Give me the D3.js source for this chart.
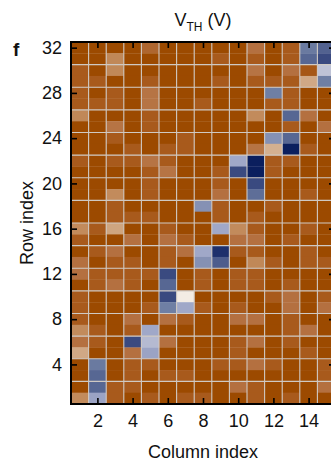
<!DOCTYPE html>
<html>
<head>
<meta charset="utf-8">
<script src="https://cdn.jsdelivr.net/npm/d3@7"></script>
<style>
  html, body { margin: 0; padding: 0; background: #fff; overflow: hidden; }
  text { font-family: Arial, "Liberation Sans", sans-serif; fill: #111; }
</style>
</head>
<body>
<svg id="chart" width="331" height="463"></svg>
<script>
// Threshold voltage map of the device array, one value per cell (V).
const columns = [1, 2, 3, 4, 5, 6, 7, 8, 9, 10, 11, 12, 13, 14, 15];
const rows = [32, 31, 30, 29, 28, 27, 26, 25, 24, 23, 22, 21, 20, 19, 18, 17,
              16, 15, 14, 13, 12, 11, 10, 9, 8, 7, 6, 5, 4, 3, 2, 1];

// vth[i][j] : row rows[i], column columns[j]
const vth = [
  [2.00, 2.00, 2.00, 2.00, 1.78, 2.00, 2.00, 2.00, 2.00, 2.00, 1.72, 2.00, 1.85, 0.50, 0.40],
  [2.00, 2.00, 1.60, 2.00, 2.00, 2.00, 2.00, 2.00, 1.85, 2.00, 1.85, 2.00, 1.85, 0.42, 0.30],
  [1.85, 2.00, 1.60, 2.00, 2.00, 2.00, 2.00, 2.00, 2.00, 2.00, 1.70, 2.00, 1.72, 1.88, 0.85],
  [1.85, 1.85, 2.00, 2.00, 1.85, 2.00, 2.00, 2.00, 1.85, 2.00, 1.85, 1.85, 1.85, 1.40, 0.52],
  [1.85, 2.00, 1.85, 2.00, 1.70, 2.00, 2.00, 2.00, 2.00, 2.00, 2.00, 0.52, 1.85, 2.00, 2.00],
  [1.85, 1.85, 1.85, 2.00, 1.70, 2.00, 2.00, 1.85, 2.00, 2.00, 2.00, 1.85, 1.85, 2.00, 2.00],
  [1.60, 2.00, 2.00, 2.00, 1.85, 2.00, 2.00, 2.00, 2.00, 2.00, 1.58, 2.00, 0.42, 1.72, 2.00],
  [2.00, 2.00, 1.70, 2.00, 1.85, 2.00, 2.00, 2.00, 2.00, 2.00, 2.00, 2.00, 1.85, 2.00, 1.72],
  [2.00, 2.00, 1.85, 2.00, 2.00, 2.00, 1.85, 2.00, 2.00, 2.00, 2.00, 0.60, 0.42, 2.00, 2.00],
  [2.00, 2.00, 2.00, 1.85, 2.00, 1.85, 1.85, 2.00, 2.00, 2.00, 1.70, 1.35, 0.05, 1.85, 2.00],
  [1.85, 2.00, 1.85, 1.85, 1.70, 1.85, 2.00, 2.00, 2.00, 0.70, 0.05, 1.85, 1.85, 2.00, 2.00],
  [2.00, 2.00, 2.00, 2.00, 1.85, 1.70, 2.00, 2.00, 1.85, 0.30, 0.05, 1.85, 2.00, 2.00, 2.00],
  [2.00, 2.00, 2.00, 2.00, 1.85, 2.00, 2.00, 2.00, 1.85, 2.00, 0.30, 2.00, 2.00, 2.00, 2.00],
  [2.00, 2.00, 1.58, 2.00, 1.85, 2.00, 2.00, 2.00, 1.72, 2.00, 0.45, 2.00, 2.00, 1.85, 2.00],
  [2.00, 2.00, 1.85, 2.00, 2.00, 2.00, 2.00, 0.60, 1.85, 2.00, 2.00, 1.85, 2.00, 2.00, 2.00],
  [2.00, 2.00, 1.85, 1.85, 1.85, 2.00, 2.00, 2.00, 1.85, 2.00, 1.85, 2.00, 2.00, 2.00, 2.00],
  [1.58, 1.85, 1.42, 2.00, 2.00, 1.85, 2.00, 2.00, 0.70, 1.58, 1.85, 2.00, 2.00, 1.85, 2.00],
  [1.85, 2.00, 2.00, 1.72, 2.00, 1.72, 1.85, 2.00, 2.00, 1.72, 1.72, 2.00, 1.85, 2.00, 2.00],
  [2.00, 1.85, 1.72, 2.00, 2.00, 1.85, 1.72, 0.70, 0.15, 1.85, 1.85, 2.00, 2.00, 1.85, 2.00],
  [1.72, 2.00, 1.85, 1.85, 2.00, 1.85, 2.00, 0.60, 0.38, 2.00, 1.60, 1.85, 2.00, 1.85, 1.85],
  [1.72, 1.85, 1.85, 1.85, 1.85, 0.30, 2.00, 1.85, 2.00, 1.85, 1.85, 2.00, 2.00, 2.00, 2.00],
  [2.00, 1.85, 1.72, 1.85, 2.00, 0.42, 2.00, 1.85, 2.00, 1.85, 1.85, 2.00, 1.85, 2.00, 2.00],
  [1.85, 2.00, 2.00, 2.00, 2.00, 0.30, 1.00, 2.00, 2.00, 2.00, 2.00, 1.85, 1.72, 2.00, 1.85],
  [1.85, 2.00, 2.00, 2.00, 1.85, 0.52, 0.70, 1.85, 2.00, 1.85, 2.00, 2.00, 1.72, 2.00, 1.72],
  [1.85, 2.00, 2.00, 1.72, 2.00, 1.72, 1.85, 2.00, 2.00, 1.72, 1.72, 2.00, 1.85, 2.00, 2.00],
  [1.58, 1.85, 2.00, 1.85, 0.70, 2.00, 2.00, 2.00, 2.00, 2.00, 2.00, 2.00, 1.85, 1.72, 2.00],
  [1.72, 1.85, 2.00, 0.30, 0.80, 1.72, 2.00, 2.00, 2.00, 1.85, 1.72, 2.00, 1.85, 2.00, 2.00],
  [1.40, 2.00, 2.00, 1.72, 0.68, 2.00, 2.00, 2.00, 2.00, 1.85, 2.00, 2.00, 2.00, 1.85, 2.00],
  [2.00, 0.50, 2.00, 1.85, 1.85, 2.00, 2.00, 2.00, 1.85, 1.85, 1.72, 1.85, 2.00, 2.00, 1.85],
  [2.00, 0.42, 2.00, 1.85, 2.00, 1.85, 1.85, 2.00, 2.00, 2.00, 2.00, 2.00, 2.00, 2.00, 1.85],
  [2.00, 0.42, 1.85, 1.85, 2.00, 2.00, 2.00, 2.00, 2.00, 1.72, 1.85, 2.00, 2.00, 2.00, 1.72],
  [1.58, 0.68, 1.85, 2.00, 1.85, 2.00, 1.85, 1.85, 2.00, 2.00, 1.85, 2.00, 1.85, 2.00, 2.00]
];

const xTicks = [2, 4, 6, 8, 10, 12, 14];
const yTicks = [4, 8, 12, 16, 20, 24, 28, 32];

// Diverging map: navy (low) -> near white -> burnt orange (high)
const colorStops = [0.05, 0.30, 0.50, 0.70, 0.85, 1.00, 1.35, 1.60, 1.72, 1.85, 2.00];
const colorRange = ["#0b1f5e", "#3a4a80", "#6a7aa0", "#a0a8c8", "#bfc3d6", "#f3ece4",
                    "#d4b090", "#c08858", "#b47040", "#a85a1c", "#9c4a00"];

const svg = d3.select("#chart");
const plotLeft = 71, plotRight = 335, plotTop = 42, plotBottom = 404;

const x = d3.scaleLinear().domain([0.5, columns.length + 0.5]).range([plotLeft, plotRight]);
const y = d3.scaleLinear().domain([0.5, rows.length + 0.5]).range([plotBottom, plotTop]);
const color = d3.scaleLinear().domain(colorStops).range(colorRange).clamp(true);

const cells = [];
rows.forEach((r, i) => columns.forEach((c, j) => cells.push({ r, c, v: vth[i][j] })));

const plot = svg.append("g");
plot.selectAll("rect.cell")
  .data(cells)
  .join("rect")
  .attr("class", "cell")
  .attr("x", d => x(d.c - 0.5))
  .attr("y", d => y(d.r + 0.5))
  .attr("width", d => x(d.c + 0.5) - x(d.c - 0.5) + 0.3)
  .attr("height", d => y(d.r - 0.5) - y(d.r + 0.5) + 0.3)
  .attr("fill", d => color(d.v));

// grid: every column boundary, every second row boundary
const vLines = columns.slice(0, -1).map(c => c + 0.5);
const hLines = rows.filter(r => r % 2 === 0 && r < rows.length).map(r => r + 0.5);
plot.selectAll("line.vg").data(vLines).join("line")
  .attr("class", "vg")
  .attr("x1", d => x(d)).attr("x2", d => x(d))
  .attr("y1", plotTop).attr("y2", plotBottom)
  .attr("stroke", "#cfc9c3").attr("stroke-width", 1.1);
plot.selectAll("line.hg").data(hLines).join("line")
  .attr("class", "hg")
  .attr("y1", d => y(d)).attr("y2", d => y(d))
  .attr("x1", plotLeft).attr("x2", plotRight)
  .attr("stroke", "#cfc9c3").attr("stroke-width", 1.1);

// axes with inward ticks on all four sides
const tickLen = 6;
function styleAxis(g) {
  g.select(".domain").remove();
  g.selectAll(".tick line").attr("stroke", "#000").attr("stroke-width", 1.6);
  g.selectAll(".tick text").style("font-size", "18px").attr("fill", "#111");
}
svg.append("g").attr("transform", `translate(${plotLeft},0)`)
  .call(d3.axisLeft(y).tickValues(yTicks).tickSizeInner(-tickLen).tickSizeOuter(0).tickPadding(9))
  .call(styleAxis);
svg.append("g").attr("transform", `translate(0,${plotBottom})`)
  .call(d3.axisBottom(x).tickValues(xTicks).tickSizeInner(-tickLen).tickSizeOuter(0).tickPadding(10))
  .call(styleAxis);
svg.append("g").attr("transform", `translate(0,${plotTop})`)
  .call(d3.axisTop(x).tickValues(xTicks).tickSizeInner(-tickLen).tickSizeOuter(0).tickFormat(""))
  .call(styleAxis);
svg.append("g").attr("transform", `translate(${plotRight},0)`)
  .call(d3.axisRight(y).tickValues(yTicks).tickSizeInner(-tickLen).tickSizeOuter(0).tickFormat(""))
  .call(styleAxis);

svg.append("rect")
  .attr("x", plotLeft).attr("y", plotTop)
  .attr("width", plotRight - plotLeft).attr("height", plotBottom - plotTop)
  .attr("fill", "none").attr("stroke", "#000").attr("stroke-width", 2);

// titles
const title = svg.append("text")
  .attr("x", (plotLeft + plotRight) / 2).attr("y", 26)
  .attr("text-anchor", "middle").style("font-size", "18px");
title.append("tspan").text("V");
title.append("tspan").attr("dy", 5).style("font-size", "12px").text("TH");
title.append("tspan").attr("dy", -5).text(" (V)");

svg.append("text")
  .attr("x", (plotLeft + plotRight) / 2).attr("y", 458)
  .attr("text-anchor", "middle").style("font-size", "18px")
  .text("Column index");

svg.append("text")
  .attr("transform", `translate(33,${(plotTop + plotBottom) / 2}) rotate(-90)`)
  .attr("text-anchor", "middle").style("font-size", "18px")
  .text("Row index");

svg.append("text")
  .attr("x", 13).attr("y", 56)
  .style("font-size", "19px").style("font-weight", "bold")
  .text("f");
</script>
</body>
</html>
